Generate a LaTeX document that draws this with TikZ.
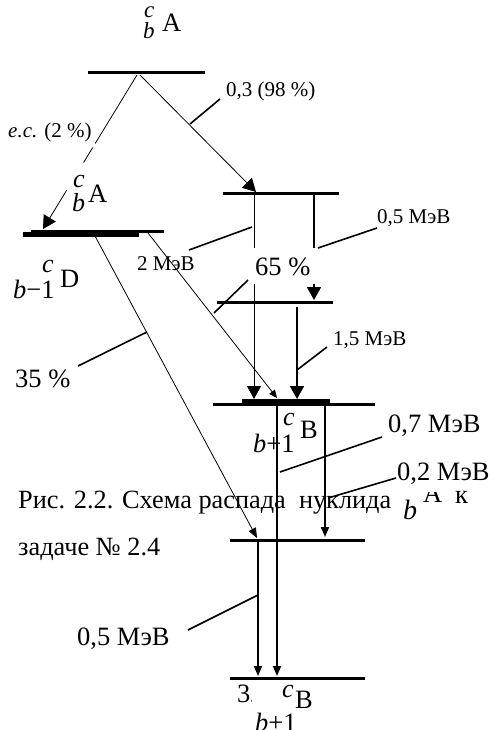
\documentclass[tikz,border=0pt]{standalone}
\usepackage{fontspec}
\setmainfont{Liberation Serif}
\usetikzlibrary{arrows.meta,calc}
\begin{document}
\begin{tikzpicture}[x=1pt,y=-1pt,
  level/.style={line width=3pt},
  fatlevel/.style={line width=5pt},
  thinline/.style={line width=0.8pt},
  thickline/.style={line width=1.8pt},
  leader/.style={line width=1.6pt},
  bigtip/.style={-{Triangle[length=13pt,width=14pt]}},
  smalltip/.style={-{Triangle[length=10pt,width=8pt]}},
  tinytip/.style={-{Triangle[length=8pt,width=7pt]}},
  sm/.style={inner sep=0pt, anchor=base west, font=\fontsize{21}{24}\selectfont},
  lg/.style={inner sep=0pt, anchor=base west, font=\fontsize{26.5}{30}\selectfont},
  capt/.style={inner sep=0pt, anchor=base west, font=\fontsize{26.3}{30}\selectfont},
  idx/.style={inner sep=0pt, anchor=base west, font=\fontsize{26}{30}\selectfont\itshape},
  idxtop/.style={inner sep=0pt, anchor=base west, font=\fontsize{23}{26}\selectfont\itshape},
]
\useasboundingbox (0,0) rectangle (489,730);

% ---------- levels ----------
\coordinate (L0w) at (88,73);   \coordinate (L0e) at (205,73);
\coordinate (L1w) at (23,234);  \coordinate (L1e) at (139,234);
\coordinate (L1bw) at (31,231); \coordinate (L1be) at (164,231);
\coordinate (L2w) at (223,193); \coordinate (L2e) at (339,193);
\coordinate (L3w) at (217,302); \coordinate (L3e) at (333,302);
\coordinate (LBw) at (213,404); \coordinate (LBe) at (375,404);
\coordinate (LBbw) at (242,401);\coordinate (LBbe) at (330,401);
\coordinate (L4w) at (230,540); \coordinate (L4e) at (365,540);
\coordinate (L5w) at (230,678); \coordinate (L5e) at (365,678);

\draw[level] (L0w) -- (L0e);
\draw[fatlevel] (L1w) -- (L1e);
\draw[level] (L1bw) -- (L1be);
\draw[level] (L2w) -- (L2e);
\draw[level] (L3w) -- (L3e);
\draw[level] (LBw) -- (LBe);
\draw[fatlevel] (LBbw) -- (LBbe);
\draw[level] (L4w) -- (L4e);
\draw[level] (L5w) -- (L5e);

% ---------- transitions ----------
% electron capture
\coordinate (ecS) at (137,75); \coordinate (ecE) at (43,229);
\draw[thinline] (ecS) -- ($(ecS)!0.445!(ecE)$);
\draw[thinline] ($(ecS)!0.471!(ecE)$) -- ($(ecS)!0.568!(ecE)$);
\draw[thinline,bigtip] ($(ecS)!0.748!(ecE)$) -- (ecE);
% beta 98 %
\coordinate (bS) at (140,75); \coordinate (bE) at (256,192);
\draw[thinline,bigtip] (bS) -- (bE);
% 2 MeV from D level
\coordinate (dS) at (148,233); \coordinate (dE) at (277,398);
\draw[thinline,tinytip] (dS) -- (dE);
% 35 % from D level
\coordinate (eS) at (95,236); \coordinate (eE) at (257,538);
\draw[thinline,smalltip] (eS) -- (eE);
% from level 2
\coordinate (fS) at (254,194); \coordinate (fE) at (254,399);
\draw[thinline,bigtip] (fS) -- (fE);
\coordinate (gS) at (314,194); \coordinate (gE) at (314,300);
\draw[thickline,bigtip] (gS) -- (gE);
% from level 3
\coordinate (hS) at (297,307); \coordinate (hE) at (297,399);
\draw[thickline,bigtip] (hS) -- (hE);
% from level B
\coordinate (iS) at (277,405); \coordinate (iE) at (277,676);
\draw[thickline,smalltip] (iS) -- (iE);
\coordinate (jS) at (325,405); \coordinate (jE) at (325,537);
\draw[thickline,smalltip] (jS) -- (jE);
% from level 4
\coordinate (kS) at (258,541); \coordinate (kE) at (258,676);
\draw[thickline,smalltip] (kS) -- (kE);

% ---------- label 65 % (white box hides the lines behind it) ----------
\node[lg, fill=white, inner xsep=17pt, inner ysep=9pt] (p65) at (238,275) {65 \%};

% ---------- leaders ----------
\coordinate (a1) at (220,99);  \coordinate (a2) at (190,124);
\draw[leader] (a1) -- (a2);
\coordinate (b1) at (377,228); \coordinate (b2) at (318,248);
\draw[leader] (b1) -- (b2);
\coordinate (c1) at (189,250); \coordinate (c2) at (252,227);
\draw[leader] (c1) -- (c2);
\coordinate (d1) at (248,280); \coordinate (d2) at (214,313);
\draw[leader] (d1) -- (d2);
\coordinate (e1) at (78,366);  \coordinate (e2) at (147,332);
\draw[leader] (e1) -- (e2);
\coordinate (f1) at (327,347); \coordinate (f2) at (297,370);
\draw[leader] (f1) -- (f2);
\coordinate (g1) at (382,437); \coordinate (g2) at (280,472);
\draw[leader] (g1) -- (g2);
\coordinate (h1) at (396,478); \coordinate (h2) at (328,498);
\draw[leader] (h1) -- (h2);
\coordinate (k1) at (188,630); \coordinate (k2) at (258,595);
\draw[leader] (k1) -- (k2);

% ---------- energy / intensity labels ----------
\node[sm] (t98) at (226,97) {0,3 (98 \%)};
\node[sm] (tec) at (8,138) {\textit{e.c.} (2 \%)};
\node[sm] (t05a) at (377,223) {0,5 МэВ};
\node[sm] (t2) at (137,270) {2 МэВ};
\node[sm] (t15) at (333,345) {1,5 МэВ};
\node[lg] (t35) at (15,387) {35 \%};
\node[lg] (t07) at (388,432) {0,7 МэВ};
\node[lg] (t02) at (397,480) {0,2 МэВ};
\node[lg] (t05b) at (77,645) {0,5 МэВ};

% ---------- nuclide labels ----------
\node[idxtop] (nAc) at (144,18) {c};
\node[idxtop] (nAb) at (143,39) {b};
\node[lg]  (nA)  at (162,32) {A};

\node[idx] (mAc) at (73,187) {c};
\node[idx] (mAb) at (72,211) {b};
\node[lg]  (mA)  at (88,202) {A};

\node[idx] (nDc) at (42,272) {c};
\node[lg]  (nD)  at (60,287) {D};
\node[lg]  (nDb) at (13,298) {\textit{b}−1};

\node[idx] (nBc) at (283,425) {c};
\node[lg]  (nB)  at (300,438) {B};
\node[lg]  (nBb) at (253,452) {\textit{b}+1};

\node[idx] (oBc) at (282,697) {c};
\node[lg]  (oB)  at (295,708) {B};
\node[lg]  (oBb) at (255,731) {\textit{b}+1};
\begin{scope}
  \clip (230,680) rectangle (251,712);
  \node[lg] (o32) at (237,702) {32};
\end{scope}

% ---------- caption ----------
\node[capt] (cap1) at (18,508) {Рис. 2.2. Схема распада\ \ нуклида};
\node[idx, font=\fontsize{28}{30}\selectfont\itshape] (capb) at (403,519) {b};
\begin{scope}
  \clip (415,492) rectangle (452,512);
  \node[lg] (capA) at (423,502) {A};
\end{scope}
\node[lg] (capk) at (455,503) {к};
\node[capt] (cap2) at (18,555) {задаче № 2.4};
\end{tikzpicture}
\end{document}
